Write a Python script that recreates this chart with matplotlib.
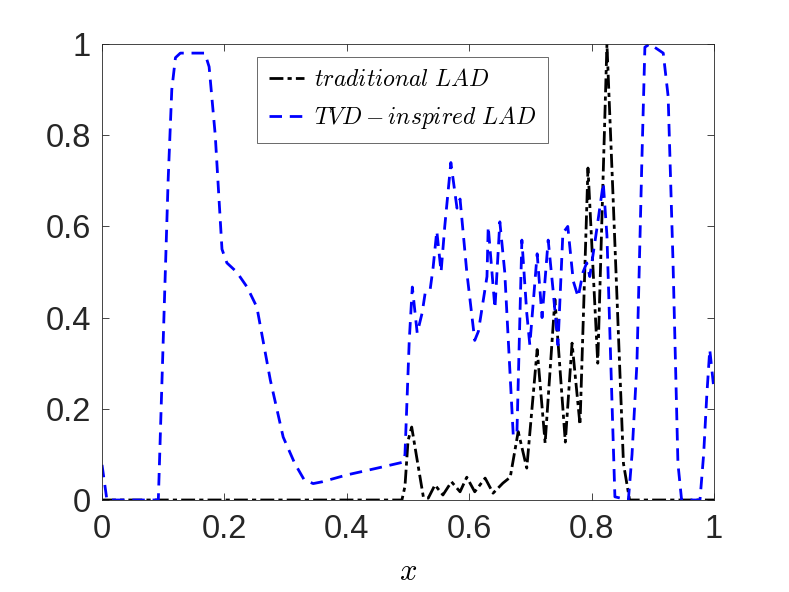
import numpy as np
import matplotlib.pyplot as plt

plt.rcParams['font.family'] = ['Liberation Sans', 'DejaVu Sans']
plt.rcParams['mathtext.fontset'] = 'cm'

# traditional LAD (black dash-dot)
x_trad = [0, 0.49, 0.495, 0.500, 0.506, 0.514, 0.525, 0.533, 0.544, 0.557,
          0.571, 0.585, 0.596, 0.609, 0.626, 0.639, 0.655, 0.667, 0.680, 0.694,
          0.711, 0.724, 0.740, 0.757, 0.768, 0.781, 0.794, 0.810, 0.825, 0.835,
          0.852, 0.862, 1.0]
y_trad = [0, 0, 0.03, 0.13, 0.16, 0.095, 0.007, 0.004, 0.033, 0.011,
          0.04, 0.018, 0.05, 0.018, 0.048, 0.015, 0.037, 0.05, 0.15, 0.07,
          0.33, 0.125, 0.44, 0.127, 0.344, 0.165, 0.728, 0.30, 1.0, 0.665,
          0.08, 0, 0]

# TVD-inspired LAD (blue dashed)
x_tvd = [0, 0.008, 0.092, 0.10, 0.108, 0.114, 0.12, 0.128, 0.168, 0.175,
         0.185, 0.196, 0.204, 0.22, 0.237, 0.253, 0.275, 0.296, 0.315, 0.33,
         0.345, 0.36, 0.40, 0.45, 0.492, 0.495, 0.502, 0.507, 0.515, 0.523,
         0.528, 0.536, 0.541, 0.547, 0.554, 0.560, 0.570, 0.580, 0.585, 0.596,
         0.609, 0.615, 0.629, 0.631, 0.642, 0.650, 0.658, 0.672, 0.678, 0.686,
         0.694, 0.699, 0.711, 0.719, 0.729, 0.737, 0.745, 0.753, 0.761, 0.770,
         0.778, 0.786, 0.792, 0.797, 0.808, 0.819, 0.825, 0.833, 0.838, 0.86,
         0.866, 0.874, 0.882, 0.887, 0.895, 0.917, 0.925, 0.933, 0.941, 0.947,
         0.977, 0.983, 0.988, 0.993, 1.0]
y_tvd = [0.077, 0, 0, 0.35, 0.7, 0.9, 0.97, 0.98, 0.98, 0.95,
         0.8, 0.55, 0.52, 0.5, 0.467, 0.423, 0.263, 0.138, 0.08, 0.045,
         0.036, 0.04, 0.055, 0.07, 0.083, 0.1, 0.35, 0.467, 0.366, 0.41,
         0.454, 0.46, 0.51, 0.59, 0.50, 0.60, 0.74, 0.64, 0.66, 0.50,
         0.35, 0.37, 0.49, 0.60, 0.42, 0.61, 0.50, 0.14, 0.15, 0.57,
         0.41, 0.34, 0.54, 0.40, 0.57, 0.46, 0.34, 0.585, 0.60, 0.48,
         0.445, 0.50, 0.52, 0.49, 0.59, 0.695, 0.58, 0.226, 0.007, 0,
         0.1, 0.30, 0.74, 0.993, 1.0, 0.98, 0.885, 0.52, 0.08, 0,
         0, 0.1, 0.226, 0.33, 0.24]

ticks = [0, 0.2, 0.4, 0.6, 0.8, 1]
tick_labels = ['0', '0.2', '0.4', '0.6', '0.8', '1']

fig = plt.figure(figsize=(7.89, 5.92), dpi=100)
ax = fig.add_axes([0.1293, 0.1554, 0.7757, 0.7703])

ax.plot(x_trad, y_trad, color='k', linestyle='-.', linewidth=2,
        dashes=(5, 1.5, 1.5, 1.5), label=r'$traditional\ LAD$')
ax.plot(x_tvd, y_tvd, color='b', linestyle='--', linewidth=2,
        dashes=(4.5, 2.8), label=r'$TVD-inspired\ LAD$')

ax.set_xlim(0, 1)
ax.set_ylim(0, 1)
ax.set_xticks(ticks)
ax.set_xticklabels(tick_labels)
ax.set_yticks(ticks)
ax.set_yticklabels(tick_labels)
ax.tick_params(direction='in', top=True, right=True, length=5, width=0.6,
               labelsize=23.5, colors='#262626')
ax.tick_params(axis='y', pad=8)
ax.tick_params(axis='x', pad=10)
for s in ax.spines.values():
    s.set_color('#262626')
    s.set_linewidth(0.6)

ax.set_xlabel(r'$x$', fontsize=22, labelpad=9)

leg = ax.legend(loc='upper left', bbox_to_anchor=(0.253, 0.971),
                fontsize=17, handlelength=1.5, frameon=True, fancybox=False,
                borderpad=0.5, labelspacing=0.55, handletextpad=0.4,
                borderaxespad=0)
leg.get_frame().set_edgecolor('#262626')
leg.get_frame().set_linewidth(0.6)

fig.savefig('out.png', dpi=100)
